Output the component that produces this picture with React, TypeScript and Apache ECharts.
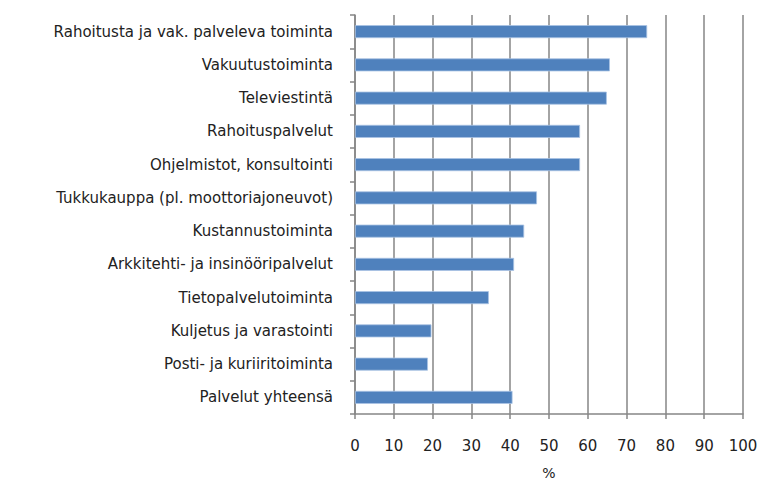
import React, { useEffect, useRef } from "react";
import * as echarts from "echarts";

const categories = [
  "Rahoitusta ja vak. palveleva toiminta",
  "Vakuutustoiminta",
  "Televiestintä",
  "Rahoituspalvelut",
  "Ohjelmistot, konsultointi",
  "Tukkukauppa (pl. moottoriajoneuvot)",
  "Kustannustoiminta",
  "Arkkitehti- ja insinööripalvelut",
  "Tietopalvelutoiminta",
  "Kuljetus ja varastointi",
  "Posti- ja kuriiritoiminta",
  "Palvelut yhteensä",
];

const values = [75.3, 65.7, 64.9, 58.0, 58.0, 46.9, 43.6, 41.0, 34.5, 19.7, 18.8, 40.6];

const xTicks = [0, 10, 20, 30, 40, 50, 60, 70, 80, 90, 100];
const xAxisName = "%";

export default function App() {
  const ref = useRef<HTMLDivElement>(null);
  useEffect(() => {
    if (!ref.current) return;
    const chart = echarts.init(ref.current, null, { renderer: "svg" });
    const font = "'DejaVu Sans', sans-serif";
    chart.setOption({
      animation: false,
      backgroundColor: "#ffffff",
      grid: { left: 355, right: 18, top: 15, bottom: 67, containLabel: false, outerBoundsMode: "none" },
      xAxis: {
        type: "value",
        min: xTicks[0],
        max: xTicks[xTicks.length - 1],
        interval: 10,
        name: xAxisName,
        nameLocation: "middle",
        nameGap: 52,
        nameTextStyle: { color: "#222", fontSize: 14, fontFamily: font },
        axisLine: { show: true, lineStyle: { color: "#868686", width: 1.5 } },
        axisTick: { show: true, length: 5, lineStyle: { color: "#868686", width: 1.5 } },
        axisLabel: { color: "#222", fontSize: 15, fontFamily: font, margin: 24 },
        splitLine: { show: true, lineStyle: { color: "#868686", width: 1.5 } },
      },
      yAxis: {
        type: "category",
        data: categories,
        inverse: true,
        axisLine: { show: true, lineStyle: { color: "#868686", width: 1.5 } },
        axisTick: { show: true, length: 5, lineStyle: { color: "#868686", width: 1.5 } },
        axisLabel: { color: "#222", fontSize: 15, fontFamily: font, margin: 22 },
        splitLine: { show: false },
      },
      series: [
        {
          type: "bar",
          data: values,
          barWidth: 13,
          itemStyle: { color: "#4f81bd", borderColor: "#a9c3e3", borderWidth: 0.8 },
        },
      ],
    });
    return () => chart.dispose();
  }, []);
  return <div ref={ref} style={{ width: 761, height: 481, position: "absolute", left: 0, top: 0 }} />;
}
